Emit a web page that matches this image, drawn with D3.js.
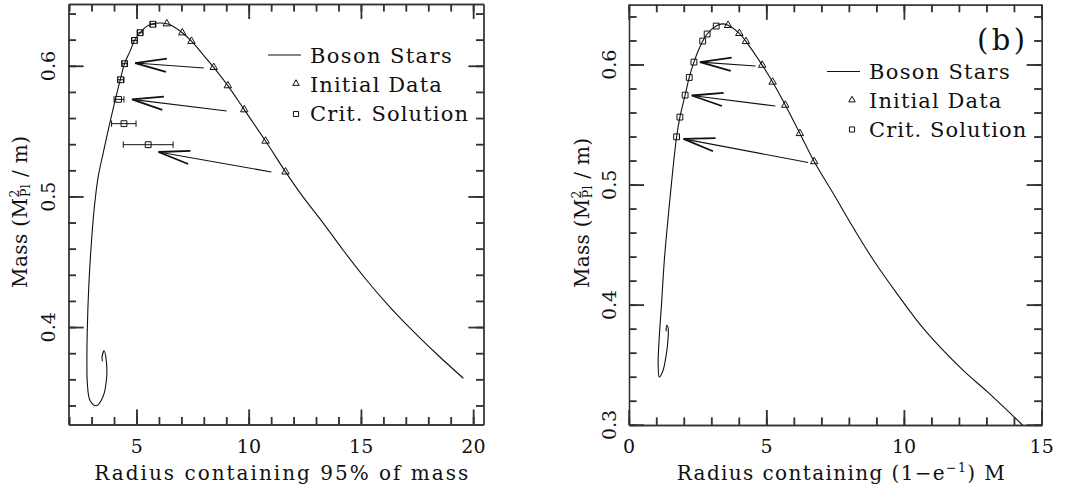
<!DOCTYPE html>
<html>
<head>
<meta charset="utf-8">
<script src="https://cdn.jsdelivr.net/npm/d3@7"></script>
<style>
  html, body { margin: 0; padding: 0; background: #fff; }
  svg { display: block; font-family: "DejaVu Serif", serif; }
</style>
</head>
<body>
<div id="chart"></div>
<script>
// PANEL (a): radius containing 95% of mass
const starsA = [
  [3.47, 0.374], [3.46, 0.378], [3.55, 0.382], [3.64, 0.375], [3.66, 0.362],
  [3.50, 0.347], [3.20, 0.340], [2.92, 0.344], [2.80, 0.357], [2.78, 0.375],
  [2.80, 0.400], [2.86, 0.430], [2.96, 0.460], [3.10, 0.490], [3.28, 0.515],
  [3.50, 0.533], [3.77, 0.554], [4.04, 0.574], [4.26, 0.589], [4.46, 0.602],
  [4.72, 0.612], [4.90, 0.6196], [5.15, 0.6255], [5.41, 0.630], [5.72, 0.6324],
  [6.07, 0.633], [6.44, 0.632], [7.03, 0.6255], [7.44, 0.619], [7.99, 0.608],
  [8.43, 0.599], [9.06, 0.585], [9.79, 0.5666], [10.74, 0.5426], [11.63, 0.519],
  [12.4, 0.500], [13.3, 0.480], [14.2, 0.459], [15.2, 0.437], [16.2, 0.417],
  [17.2, 0.399], [18.4, 0.379], [19.55, 0.361]
];
const initA_R = [6.34, 7.03, 7.44, 8.43, 9.06, 9.79, 10.74, 11.63];
const initA_M = [0.6324, 0.6255, 0.619, 0.599, 0.585, 0.5666, 0.5426, 0.519];
const critA_R = [5.72, 5.15, 4.90, 4.46, 4.28, 4.19, 4.43, 5.51];
const critA_M = [0.632, 0.6255, 0.6196, 0.6018, 0.5895, 0.5745, 0.5559, 0.5398];
const critA_lo = [5.60, 5.03, 4.78, 4.35, 4.15, 3.99, 3.88, 4.40];
const critA_hi = [5.84, 5.27, 5.02, 4.57, 4.43, 4.43, 4.97, 6.62];
// [tail R, tail M, head R, head M]
const arrowsA = [[7.99, 0.5985, 4.93, 0.6023], [9.01, 0.5656, 4.79, 0.5745], [11.0, 0.5189, 5.97, 0.5342]];
const xTicksA = [5, 10, 15, 20];
const yTicksA = [0.4, 0.5, 0.6];

// PANEL (b): radius containing (1 - 1/e) M
const starsB = [
  [1.35, 0.378], [1.37, 0.383], [1.42, 0.381], [1.42, 0.372], [1.35, 0.358],
  [1.23, 0.345], [1.10, 0.340], [1.06, 0.351], [1.10, 0.373], [1.18, 0.400],
  [1.29, 0.439], [1.42, 0.472], [1.56, 0.505], [1.73, 0.540], [1.85, 0.5564],
  [2.04, 0.5747], [2.19, 0.5894], [2.36, 0.6022], [2.68, 0.6197], [2.84, 0.6256],
  [3.17, 0.6322], [3.40, 0.634], [3.60, 0.6328], [4.01, 0.6261], [4.25, 0.6194],
  [4.84, 0.5997], [5.22, 0.5856], [5.68, 0.5664], [6.21, 0.5428], [6.73, 0.5194],
  [7.43, 0.4925], [8.16, 0.464], [8.87, 0.4378], [9.76, 0.4088], [10.72, 0.3798],
  [12.09, 0.3467], [13.04, 0.3273], [14.0, 0.3066], [14.30, 0.300]
];
const initB_R = [3.60, 4.01, 4.25, 4.84, 5.22, 5.68, 6.21, 6.73];
const initB_M = [0.6328, 0.6261, 0.6194, 0.5997, 0.5856, 0.5664, 0.5428, 0.5194];
const critB_R = [3.17, 2.84, 2.68, 2.36, 2.19, 2.04, 1.85, 1.73];
const critB_M = [0.6322, 0.6256, 0.6197, 0.6022, 0.5894, 0.5747, 0.5564, 0.540];
const arrowsB = [[4.60, 0.5989, 2.58, 0.6022], [5.32, 0.5656, 2.28, 0.5744], [6.51, 0.5186, 1.98, 0.5383]];
const xTicksB = [0, 5, 10, 15];
const yTicksB = [0.3, 0.4, 0.5, 0.6];

const legendLabels = ["Boson Stars", "Initial Data", "Crit. Solution"];

const INK = "#111";
const FRAME = "#333";

const svg = d3.select("#chart").append("svg")
  .attr("width", 1073).attr("height", 494);

// stretch text with letter-spacing so it spans the measured width
const fit = (sel, w) => {
  const n = sel.text().length;
  const len = sel.node().getComputedTextLength();
  sel.attr("letter-spacing", ((w - len) / (n - 1)).toFixed(3));
};

// FRAME: d3 axes on all four sides, ticks pointing inward
const drawFrame = (g, x, y, xMajor, yMajor, xMinor, yMinor) => {
  const [x0, x1] = x.range();
  const [y0, y1] = y.range();
  const sides = [
    [() => d3.axisBottom(x), `translate(0,${y0})`, xMajor, xMinor],
    [() => d3.axisTop(x), `translate(0,${y1})`, xMajor, xMinor],
    [() => d3.axisLeft(y), `translate(${x0},0)`, yMajor, yMinor],
    [() => d3.axisRight(y), `translate(${x1},0)`, yMajor, yMinor]
  ];
  sides.forEach(([mk, tr, major, minor]) => {
    [[minor, 7.5], [major, 15]].forEach(([vals, len]) => {
      g.append("g").attr("class", "frame-axis").attr("transform", tr)
        .call(mk().tickValues(vals).tickSizeInner(-len).tickSizeOuter(0).tickFormat(""));
    });
  });
  g.selectAll(".frame-axis path, .frame-axis line")
    .attr("stroke", FRAME).attr("stroke-width", 1.3);

  // same ticks again as thin filled bars
  const bars = g.append("g").attr("fill", FRAME).attr("stroke", "none");
  [[xMinor, 7.5], [xMajor, 15]].forEach(([vals, len]) => {
    bars.selectAll(null).data(vals).join("rect")
      .attr("x", (d) => x(d) - 0.65).attr("y", y0 - len).attr("width", 1.3).attr("height", len);
    bars.selectAll(null).data(vals).join("rect")
      .attr("x", (d) => x(d) - 0.65).attr("y", y1).attr("width", 1.3).attr("height", len);
  });
  [[yMinor, 7.5], [yMajor, 15]].forEach(([vals, len]) => {
    bars.selectAll(null).data(vals).join("rect")
      .attr("x", x0).attr("y", (d) => y(d) - 0.65).attr("width", len).attr("height", 1.3);
    bars.selectAll(null).data(vals).join("rect")
      .attr("x", x1 - len).attr("y", (d) => y(d) - 0.65).attr("width", len).attr("height", 1.3);
  });

  g.selectAll(".xlab").data(xMajor).join("text")
    .attr("class", "xlab")
    .attr("x", (d) => x(d)).attr("y", y0 + 28)
    .attr("text-anchor", "middle")
    .attr("font-size", 19).attr("fill", INK)
    .text((d) => d);

  // y tick labels, rotated like the original
  g.selectAll(".ylab").data(yMajor).join("text")
    .attr("class", "ylab")
    .attr("transform", (d) => `translate(${x0 - 13.5},${y(d)}) rotate(-90)`)
    .attr("text-anchor", "middle")
    .attr("font-size", 19)
    .attr("fill", INK)
    .text((d) => d.toFixed(1));
};

const renderPanel = (p) => {
  const g = svg.append("g");
  const x = d3.scaleLinear().domain(p.xDomain).range(p.xRange);
  const y = d3.scaleLinear().domain(p.yDomain).range(p.yRange);

  drawFrame(g, x, y, p.xTicks, p.yTicks,
    d3.range(Math.ceil(p.xDomain[0]), p.xDomain[1], 1),
    d3.range(Math.ceil(p.yDomain[0] * 50) / 50, p.yDomain[1], 0.02));

  const line = d3.line()
    .x((d) => x(d[0]))
    .y((d) => y(d[1]))
    .curve(d3.curveCatmullRom.alpha(0.5));

  g.append("path")
    .datum(p.stars)
    .attr("d", line)
    .attr("fill", "none")
    .attr("stroke", INK)
    .attr("stroke-width", 1.1);

  // ERROR BARS
  if (p.lo) {
    const eb = g.append("g").attr("stroke", INK).attr("stroke-width", 1);
    p.critR.forEach((r, i) => {
      const yy = y(p.critM[i]);
      eb.append("line").attr("x1", x(p.lo[i])).attr("x2", x(p.hi[i])).attr("y1", yy).attr("y2", yy);
      [p.lo[i], p.hi[i]].forEach((v) =>
        eb.append("line").attr("x1", x(v)).attr("x2", x(v)).attr("y1", yy - 3.2).attr("y2", yy + 3.2));
    });
  }

  const tri = d3.symbol(d3.symbolTriangle, 24);
  const sq = d3.symbol(d3.symbolSquare, 34);

  g.append("g").selectAll("path")
    .data(p.initR.map((r, i) => [r, p.initM[i]]))
    .join("path")
    .attr("transform", (d) => `translate(${x(d[0])},${y(d[1])})`)
    .attr("d", tri)
    .attr("fill", "none").attr("stroke", INK).attr("stroke-width", 1);

  g.append("g").selectAll("path")
    .data(p.critR.map((r, i) => [r, p.critM[i]]))
    .join("path")
    .attr("transform", (d) => `translate(${x(d[0])},${y(d[1])})`)
    .attr("d", sq)
    .attr("fill", "none").attr("stroke", INK).attr("stroke-width", 1);

  // ARROWS
  const arrows = g.append("g").attr("stroke", INK).attr("fill", "none");
  p.arrows.forEach(([tr, tm, hr, hm]) => {
    const tx = x(tr), ty = y(tm), hx = x(hr), hy = y(hm);
    arrows.append("line").attr("x1", tx).attr("y1", ty).attr("x2", hx).attr("y2", hy)
      .attr("stroke-width", 1.1);
    const ang = Math.atan2(ty - hy, tx - hx);
    const L = 32, spread = (12 * Math.PI) / 180;
    const wing = [ang - spread, ang + spread]
      .map((a) => [hx + L * Math.cos(a), hy + L * Math.sin(a)]);
    arrows.append("path")
      .attr("d", `M${wing[0][0]},${wing[0][1]}L${hx},${hy}L${wing[1][0]},${wing[1][1]}`)
      .attr("stroke-width", 1.8);
  });

  // LEGEND
  const lg = p.legend;
  g.append("line").attr("x1", lg.lineX0).attr("x2", lg.lineX1)
    .attr("y1", lg.lineY).attr("y2", lg.lineY)
    .attr("stroke", INK).attr("stroke-width", 1.1);
  g.append("path").attr("transform", `translate(${lg.symX},${lg.symY[0]})`)
    .attr("d", d3.symbol(d3.symbolTriangle, 18)).attr("fill", "none").attr("stroke", INK);
  g.append("path").attr("transform", `translate(${lg.symX},${lg.symY[1]})`)
    .attr("d", d3.symbol(d3.symbolSquare, 26)).attr("fill", "none").attr("stroke", INK);
  legendLabels.forEach((t, i) => {
    const tx = g.append("text").attr("x", lg.textX).attr("y", lg.base[i])
      .attr("font-size", 21).attr("fill", INK).text(t);
    fit(tx, lg.widths[i]);
  });

  // AXIS TITLES
  const xt = g.append("text").attr("x", p.xTitle.x).attr("y", 480)
    .attr("font-size", 20).attr("fill", INK);
  p.xTitle.parts.forEach(([s, size, dy]) =>
    xt.append("tspan").attr("font-size", size).attr("dy", dy).text(s));
  fit(xt, p.xTitle.w);

  const yt = g.append("text")
    .attr("transform", `translate(${p.yTitle.x},${p.yTitle.y}) rotate(-90)`)
    .attr("font-size", 20).attr("fill", INK);
  yt.append("tspan").text("Mass (M");
  const two = yt.append("tspan").attr("font-size", 12.5).attr("dy", -8).text("2");
  const twoLen = two.node().getComputedTextLength();
  yt.append("tspan").attr("font-size", 12.5).attr("dx", -twoLen).attr("dy", 11).text("Pl");
  yt.append("tspan").attr("dy", -3).text(" / m)");
  fit(yt, p.yTitle.w);

  if (p.tag) {
    const tg = g.append("text").attr("x", p.tag.x).attr("y", p.tag.y)
      .attr("font-size", 29).attr("fill", INK).text("(b)");
    fit(tg, p.tag.w);
  }
};

renderPanel({
  xDomain: [1.96, 20.45], xRange: [68.5, 483.5],
  yDomain: [0.3256, 0.6475], yRange: [424.5, 4],
  stars: starsA, initR: initA_R, initM: initA_M,
  critR: critA_R, critM: critA_M, lo: critA_lo, hi: critA_hi,
  arrows: arrowsA, xTicks: xTicksA, yTicks: yTicksA,
  legend: { lineX0: 268, lineX1: 301, lineY: 55, symX: 296, symY: [83.5, 114],
    textX: 310, base: [62.5, 91.5, 120.7], widths: [141.7, 131.7, 158] },
  xTitle: { x: 94.3, w: 374, parts: [["Radius containing 95% of mass", 20, 0]] },
  yTitle: { x: 27, y: 288, w: 160 }
});

renderPanel({
  xDomain: [0, 15], xRange: [629, 1041.7],
  yDomain: [0.3, 0.65], yRange: [425, 4.7],
  stars: starsB, initR: initB_R, initM: initB_M,
  critR: critB_R, critM: critB_M,
  arrows: arrowsB, xTicks: xTicksB, yTicks: yTicksB,
  legend: { lineX0: 827, lineX1: 860, lineY: 71.5, symX: 852, symY: [100, 129.5],
    textX: 869, base: [79.3, 108, 137.3], widths: [140.7, 132.3, 157.3] },
  xTitle: { x: 676.7, w: 328, parts: [["Radius containing (1\u2212e", 20, 0], ["\u22121", 12.5, -8], [") M", 20, 8]] },
  yTitle: { x: 589, y: 288, w: 158 },
  tag: { x: 977, y: 50, w: 48 }
});
</script>
</body>
</html>
